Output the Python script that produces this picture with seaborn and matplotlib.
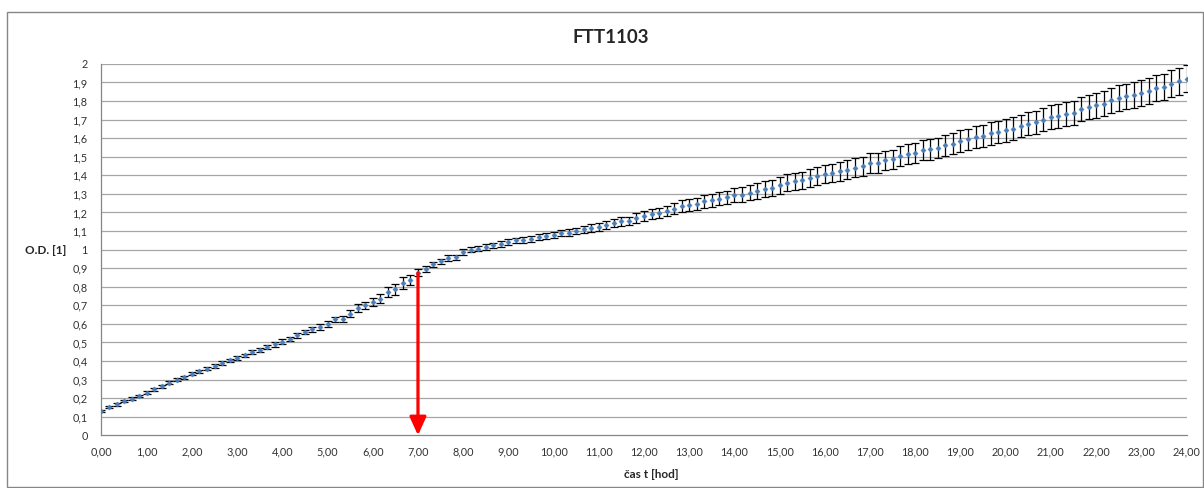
import numpy as np
import pandas as pd
import matplotlib
matplotlib.use("Agg")
import matplotlib.pyplot as plt
import seaborn as sns
from matplotlib.patches import Rectangle

# time in hours, one reading every 10 minutes
time_h = [k / 6 for k in range(145)]

# mean O.D.
od_mean = [
    0.130, 0.152, 0.166, 0.184, 0.197, 0.211, 0.229, 0.247, 0.263, 0.283, 0.299, 0.313,
    0.331, 0.346, 0.358, 0.373, 0.389, 0.403, 0.416, 0.430, 0.448, 0.461, 0.475, 0.489,
    0.505, 0.520, 0.538, 0.556, 0.570, 0.583, 0.600, 0.624, 0.628, 0.655, 0.685, 0.700,
    0.718, 0.735, 0.772, 0.786, 0.820, 0.838, 0.875, 0.898, 0.920, 0.936, 0.955, 0.958,
    0.987, 0.999, 1.005, 1.014, 1.023, 1.030, 1.041, 1.050, 1.052, 1.059, 1.066, 1.073,
    1.077, 1.091, 1.091, 1.100, 1.109, 1.116, 1.122, 1.134, 1.143, 1.152, 1.154, 1.170,
    1.181, 1.190, 1.197, 1.208, 1.220, 1.235, 1.240, 1.246, 1.260, 1.265, 1.274, 1.281,
    1.296, 1.296, 1.307, 1.316, 1.328, 1.332, 1.346, 1.360, 1.367, 1.373, 1.386, 1.397,
    1.409, 1.414, 1.421, 1.430, 1.440, 1.448, 1.466, 1.466, 1.480, 1.486, 1.502, 1.513,
    1.520, 1.535, 1.540, 1.547, 1.561, 1.571, 1.585, 1.594, 1.607, 1.614, 1.626, 1.633,
    1.642, 1.651, 1.666, 1.678, 1.687, 1.700, 1.714, 1.720, 1.732, 1.738, 1.755, 1.768,
    1.777, 1.786, 1.804, 1.817, 1.825, 1.831, 1.845, 1.854, 1.872, 1.876, 1.894, 1.906,
    1.921,
]

# error bar half-heights
od_err = [
    0.006, 0.006, 0.006, 0.007, 0.007, 0.007, 0.007, 0.007, 0.008, 0.008, 0.008, 0.008,
    0.008, 0.008, 0.009, 0.009, 0.009, 0.010, 0.010, 0.010, 0.011, 0.011, 0.011, 0.012,
    0.012, 0.012, 0.013, 0.013, 0.013, 0.014, 0.015, 0.015, 0.017, 0.018, 0.020, 0.020,
    0.022, 0.024, 0.028, 0.030, 0.031, 0.027, 0.018, 0.016, 0.015, 0.014, 0.014, 0.014,
    0.014, 0.014, 0.014, 0.014, 0.015, 0.015, 0.015, 0.015, 0.016, 0.016, 0.016, 0.016,
    0.016, 0.017, 0.018, 0.018, 0.019, 0.020, 0.021, 0.022, 0.022, 0.023, 0.024, 0.025,
    0.026, 0.027, 0.028, 0.029, 0.030, 0.031, 0.032, 0.033, 0.034, 0.035, 0.036, 0.037,
    0.038, 0.039, 0.040, 0.041, 0.042, 0.043, 0.044, 0.045, 0.046, 0.047, 0.047, 0.048,
    0.049, 0.049, 0.050, 0.050, 0.051, 0.051, 0.052, 0.052, 0.053, 0.053, 0.054, 0.054,
    0.055, 0.055, 0.056, 0.056, 0.057, 0.057, 0.058, 0.058, 0.059, 0.059, 0.060, 0.060,
    0.060, 0.061, 0.061, 0.062, 0.062, 0.063, 0.063, 0.064, 0.064, 0.065, 0.065, 0.066,
    0.066, 0.067, 0.067, 0.068, 0.068, 0.069, 0.069, 0.070, 0.070, 0.071, 0.071, 0.072,
    0.072,
]

x_ticks = list(range(25))
x_tick_labels = [f"{v},00" for v in x_ticks]
y_ticks = [i / 10 for i in range(21)]
y_tick_labels = [("%g" % v).replace(".", ",") for v in y_ticks]

arrow_t = 7.0
arrow_top = 0.875

df = pd.DataFrame({"t": time_h, "od": od_mean, "err": od_err})

sns.set_style("white")
plt.rcParams["font.family"] = ["Lato", "DejaVu Sans"]

fig = plt.figure(figsize=(12.04, 4.88), dpi=100)
ax = fig.add_axes([0.0843, 0.108, 0.9012, 0.761])

# horizontal grid
for v in y_ticks[1:]:
    ax.axhline(v, color="#a6a6a6", lw=0.9, zorder=0)

ax.errorbar(df["t"], df["od"], yerr=df["err"], fmt="none", ecolor="black",
            elinewidth=0.9, capsize=2.6, capthick=0.9, zorder=2)
sns.scatterplot(data=df, x="t", y="od", ax=ax, marker="D", s=7,
                color="#4a7ebb", edgecolor="#4a7ebb", linewidth=0.3, zorder=3)

# red arrow at 7 h
ax.annotate("", xy=(arrow_t, 0), xytext=(arrow_t, arrow_top),
            arrowprops=dict(arrowstyle="-|>,head_length=1.1,head_width=0.5",
                            mutation_scale=10, color="#ff0000", lw=2.3,
                            shrinkA=0, shrinkB=0), zorder=4)

ax.set_xlim(0, 24)
ax.set_ylim(0, 2)
ax.set_xticks(x_ticks)
ax.set_xticklabels(x_tick_labels)
ax.set_yticks(y_ticks)
ax.set_yticklabels(y_tick_labels)
ax.tick_params(axis="both", labelsize=7.8, colors="#333333", length=4, width=0.8,
               direction="out")
ax.tick_params(axis="x", color="#868686", pad=4)
ax.tick_params(axis="y", color="#868686", pad=6)
ax.set_xlabel("")
ax.set_ylabel("")
for side in ["top", "right"]:
    ax.spines[side].set_visible(False)
for side in ["left", "bottom"]:
    ax.spines[side].set_color("#868686")
    ax.spines[side].set_linewidth(0.9)

fig.text(0.507, 0.924, "FTT1103", ha="center", va="center",
         fontsize=13.5, fontweight="bold")
fig.text(0.541, 0.028, "čas t [hod]", ha="center", va="center",
         fontsize=8.5, fontweight="bold")
fig.text(0.038, 0.487, "O.D. [1]", ha="center", va="center",
         fontsize=8.5, fontweight="bold")

# chart border
fig.patches.append(Rectangle((0.0058, 0.002), 0.9935, 0.973,
                             transform=fig.transFigure, fill=False,
                             edgecolor="#868686", lw=1.0))

fig.savefig("out.png", dpi=100)
